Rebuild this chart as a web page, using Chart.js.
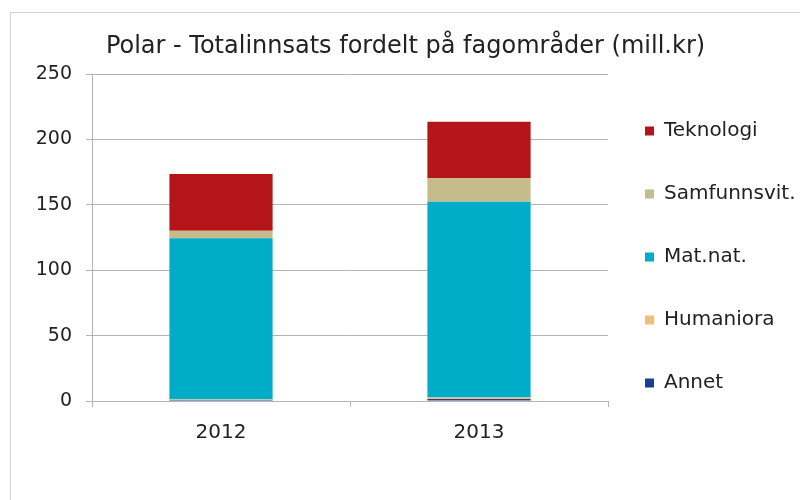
<!DOCTYPE html>
<html>
<head>
<meta charset="utf-8">
<title>Polar - Totalinnsats</title>
<script src="https://cdn.jsdelivr.net/npm/chart.js@4.4.1/dist/chart.umd.min.js"></script>
<style>
  html, body { margin: 0; padding: 0; background: #fff; overflow: hidden; }
  #frame {
    position: absolute; left: 10px; top: 12px;
    width: 800px; height: 500px;
    border: 1px solid #d4d4d4; box-sizing: border-box;
  }
  #wrap { position: absolute; left: 0; top: 0; width: 789px; height: 487px; }
</style>
</head>
<body>
<div id="frame"><div id="wrap"><canvas id="polar"></canvas></div></div>
<script>
// years and values per subject area (mill. kr)
const years = ['2012', '2013'];
const annet = [0.8, 1.5];
const humaniora = [0.3, 1.2];
const matNat = [123.3, 149.7];
const samfunnsvit = [5.8, 17.9];
const teknologi = [43.3, 43.2];
const yTicks = [0, 50, 100, 150, 200, 250];

const font = 'DejaVu Sans, Verdana, sans-serif';
Chart.defaults.font.family = font;
Chart.defaults.color = '#222';

// nudge the legend block a bit down/left of where Chart.js puts it
const legendShift = {
  id: 'legendShift',
  afterLayout(chart) {
    const lg = chart.legend;
    if (!lg) return;
    lg.top += 21; lg.bottom += 21;
    lg.left -= 6; lg.right -= 6;
  }
};

const ctx = document.getElementById('polar').getContext('2d');
new Chart(ctx, {
  type: 'bar',
  data: {
    labels: years,
    datasets: [
      { label: 'Annet', data: annet, backgroundColor: '#1b3d92' },
      { label: 'Humaniora', data: humaniora, backgroundColor: '#f3bf78' },
      { label: 'Mat.nat.', data: matNat, backgroundColor: '#00adc9' },
      { label: 'Samfunnsvit.', data: samfunnsvit, backgroundColor: '#c6bb8a' },
      { label: 'Teknologi', data: teknologi, backgroundColor: '#b31518' }
    ]
  },
  plugins: [legendShift],
  options: {
    responsive: true,
    maintainAspectRatio: false,
    animation: false,
    layout: { padding: { left: 0, right: 0, top: 0, bottom: 41 } },
    datasets: { bar: { barPercentage: 0.4, categoryPercentage: 1 } },
    plugins: {
      title: {
        display: true,
        text: 'Polar - Totalinnsats fordelt på fagområder (mill.kr)',
        font: { size: 24, weight: 'normal' },
        color: '#222',
        padding: { top: 19.6, bottom: 12.6 }
      },
      legend: {
        position: 'right',
        reverse: true,
        maxWidth: 192,
        labels: {
          boxWidth: 9, boxHeight: 9,
          padding: 43,
          font: { size: 20 },
          color: '#222'
        }
      },
      tooltip: { enabled: false }
    },
    scales: {
      x: {
        stacked: true,
        grid: { offset: true, drawOnChartArea: false, drawTicks: true, tickLength: 6, color: '#b4b4b4' },
        border: { color: '#b4b4b4' },
        ticks: { font: { size: 20 }, color: '#222', padding: 14 }
      },
      y: {
        stacked: true,
        min: 0, max: 250,
        afterBuildTicks: s => { s.ticks = yTicks.map(v => ({ value: v })); },
        afterFit: s => { s.width = 81; },
        grid: { color: '#b4b4b4', tickLength: 6 },
        border: { color: '#b4b4b4' },
        ticks: { font: { size: 19 }, color: '#222', padding: 14 }
      }
    }
  }
});
</script>
</body>
</html>
